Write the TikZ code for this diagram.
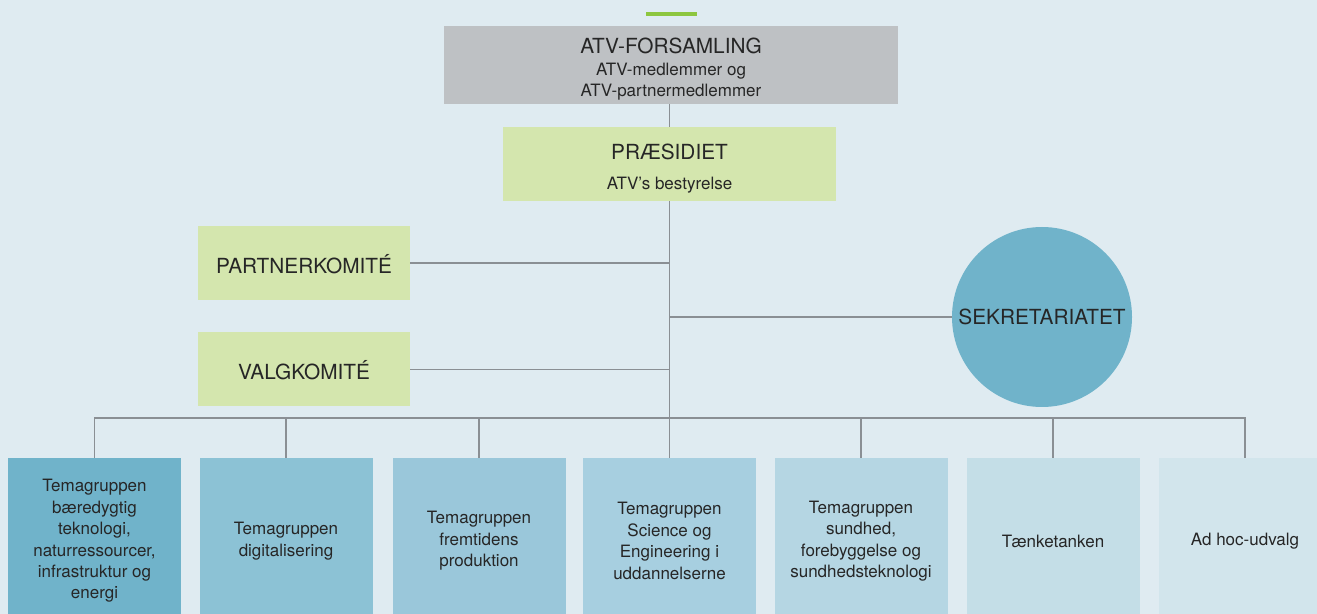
\documentclass[tikz,border=0pt]{standalone}
\usepackage{fontspec}
\setmainfont{TeX Gyre Heros}
\usepackage{xcolor}
\usepackage{tikz}

\definecolor{bgblue}{HTML}{DFEBF1}
\definecolor{bargreen}{HTML}{8DC63F}
\definecolor{boxgray}{HTML}{BEC1C4}
\definecolor{boxgreen}{HTML}{D4E6AE}
\definecolor{circblue}{HTML}{70B3CA}
\definecolor{linegray}{HTML}{8A8F94}
\definecolor{txtgray}{HTML}{262626}
\definecolor{temaA}{HTML}{70B3CA}
\definecolor{temaB}{HTML}{8CC2D5}
\definecolor{temaC}{HTML}{9AC7DA}
\definecolor{temaD}{HTML}{A7CFE0}
\definecolor{temaE}{HTML}{B5D6E3}
\definecolor{temaF}{HTML}{C4DEE7}
\definecolor{temaG}{HTML}{D2E5EC}

\tikzset{
  bigtxt/.style={font=\fontsize{10.4}{12.5}\selectfont, text=txtgray},
  smalltxt/.style={font=\fontsize{8.5}{10.7}\selectfont, text=txtgray},
  greenbox/.style={fill=boxgreen, minimum width=106pt, minimum height=37pt,
    text height=10.3pt, text depth=0pt, bigtxt},
  temabox/.style={minimum width=86.5pt, minimum height=83pt, inner sep=0pt,
    align=center, smalltxt},
  link/.style={draw=linegray, line width=0.8pt},
}

\begin{document}
\begin{tikzpicture}[x=0.5pt, y=-0.5pt]
\fill [bgblue] (0,0) rectangle (1317,614);
\useasboundingbox (0,0) rectangle (1317,614);
\clip (0,0) rectangle (1317,614);
\fill [bargreen] (646,12) rectangle (697,16);

% top of the organisation
\node [fill=boxgray, minimum width=227pt, minimum height=39pt] (forsamling) at (671,65) {};
\node [bigtxt, anchor=base] (forsamlingtitle) at (671,53.3) {ATV-FORSAMLING};
\node [smalltxt, anchor=base] (forsamlingsubA) at (671,76) {ATV-medlemmer og};
\node [smalltxt, anchor=base] (forsamlingsubB) at (671,96.7) {ATV-partnermedlemmer};

\node [fill=boxgreen, minimum width=166.5pt, minimum height=37pt] (praesidiet) at (669.5,164) {};
\node [bigtxt, anchor=base] (praesidiettitle) at (669.5,160) {PRÆSIDIET};
\node [smalltxt, anchor=base] (praesidietsub) at (669.5,189.3) {ATV’s bestyrelse};

\node [greenbox] (partner) at (304,263) {PARTNERKOMITÉ};
\node [greenbox] (valg) at (304,369.5) {VALGKOMITÉ};
\node [circle, fill=circblue, minimum size=90pt, inner sep=0pt,
  text height=7.5pt, text depth=0pt, bigtxt] (sekretariat) at (1042,317) {SEKRETARIATET};

% groups
\node [temabox, fill=temaA] (temaA) at (94.5,541) {Temagruppen\\bæredygtig\\teknologi,\\naturressourcer,\\infrastruktur og\\energi};
\node [temabox, fill=temaB] (temaB) at (286,541) {Temagruppen\\digitalisering};
\node [temabox, fill=temaC] (temaC) at (479,541) {Temagruppen\\fremtidens\\produktion};
\node [temabox, fill=temaD] (temaD) at (669.5,541) {Temagruppen\\Science og\\Engineering i\\uddannelserne};
\node [temabox, fill=temaE] (temaE) at (861,541) {Temagruppen\\sundhed,\\forebyggelse og\\sundhedsteknologi};
\node [temabox, fill=temaF] (temaF) at (1053,541) {Tænketanken};
\node [temabox, fill=temaG] (temaG) at (1245,541) {Ad hoc-udvalg};

% lines
\coordinate (bus) at (669.5,418);
\draw [link] (forsamling.south -| praesidiet.north) -- (praesidiet.north);
\draw [link] (praesidiet.south) -- (bus);
\draw [link] (partner.east) -- (partner.east -| bus);
\draw [link] (valg.east) -- (valg.east -| bus);
\draw [link] (sekretariat.west) -- (sekretariat.west -| bus);
\draw [link] (temaA.north) |- (bus) -| (temaG.north);
\draw [link] (temaB.north) -- (temaB.north |- bus);
\draw [link] (temaC.north) -- (temaC.north |- bus);
\draw [link] (temaD.north) -- (temaD.north |- bus);
\draw [link] (temaE.north) -- (temaE.north |- bus);
\draw [link] (temaF.north) -- (temaF.north |- bus);
\end{tikzpicture}
\end{document}
